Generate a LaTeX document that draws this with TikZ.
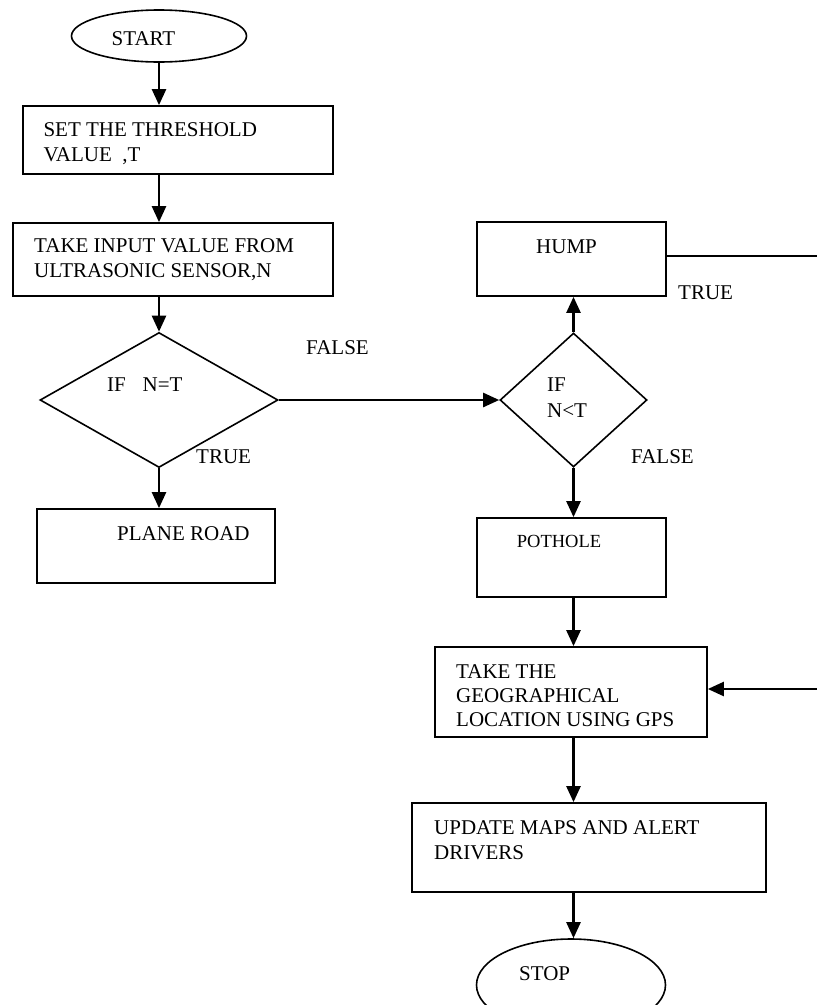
\documentclass[tikz,border=0pt]{standalone}
\usepackage{fontspec}
\setmainfont{Liberation Serif}
\usetikzlibrary{shapes.geometric,arrows.meta}
\tikzset{
  boxnode/.style={draw, line width=1.7pt, rectangle, inner sep=0pt},
  ovalnode/.style={draw, line width=1.6pt, ellipse, inner sep=0pt},
  decnode/.style={draw, line width=1.6pt, diamond, inner sep=0pt},
  txt/.style={anchor=base west, inner sep=0pt, font=\fontsize{21}{25}\selectfont},
  smalltxt/.style={anchor=base west, inner sep=0pt, font=\fontsize{18.5}{22}\selectfont},
  arr/.style={line width=2.4pt, -{Triangle[length=16pt,width=14pt]}},
  ln/.style={line width=2.2pt}
}
\begin{document}
\begin{tikzpicture}[x=1pt,y=-1pt]
\useasboundingbox (0,0) rectangle (817,1005);
% shapes
\node[ovalnode, minimum width=175pt, minimum height=52pt] (start) at (159,36) {};
\node[boxnode, minimum width=310pt, minimum height=68pt] (b1) at (178,140) {};
\node[boxnode, minimum width=320pt, minimum height=73pt] (b2) at (173,259.5) {};
\node[decnode, minimum width=238pt, minimum height=135pt, aspect=1.76] (d1) at (159,400) {};
\node[boxnode, minimum width=238pt, minimum height=74pt] (pr) at (156,546) {};
\node[decnode, minimum width=147pt, minimum height=134pt, aspect=1.1] (d2) at (573.5,400) {};
\node[boxnode, minimum width=189pt, minimum height=74pt] (hump) at (571.5,259) {};
\node[boxnode, minimum width=189pt, minimum height=79pt] (pot) at (571.5,557.5) {};
\node[boxnode, minimum width=272pt, minimum height=90pt] (gps) at (571,692) {};
\node[boxnode, minimum width=354pt, minimum height=89pt] (upd) at (589,847.5) {};
\node[ovalnode, minimum width=189pt, minimum height=92pt] (stop) at (571,985) {};
\coordinate (hr) at (817,256);
\coordinate (gr) at (817,689);
% texts
\node[txt] (tstart) at (111.5,45) {START};
\node[txt] (t1a) at (43.3,136.7) {SET THE THRESHOLD};
\node[txt] (t1b) at (43.3,161.3) {VALUE\ \ ,T};
\node[txt] (t2a) at (34,252.3) {TAKE INPUT VALUE FROM};
\node[txt] (t2b) at (34,277.3) {ULTRASONIC SENSOR,N};
\node[txt] (td1) at (107,391) {IF\hspace{11.5pt} N=T};
\node[txt] (ttrue1) at (196,463.3) {TRUE};
\node[txt] (tfalse1) at (306,354.3) {FALSE};
\node[txt] (tpr) at (117,540) {PLANE ROAD};
\node[txt] (thump) at (536,253.3) {HUMP};
\node[txt] (ttrue2) at (678,299.3) {TRUE};
\node[txt] (td2a) at (547,391.7) {IF};
\node[txt] (td2b) at (547,417.3) {N<T};
\node[txt] (tfalse2) at (631,463.3) {FALSE};
\node[smalltxt] (tpot) at (516.7,547.3) {POTHOLE};
\node[txt] (tg1) at (456,678.3) {TAKE THE};
\node[txt] (tg2) at (456,702.3) {GEOGRAPHICAL};
\node[txt] (tg3) at (456,726.7) {LOCATION USING GPS};
\node[txt] (tu1) at (434,834.3) {UPDATE MAPS AND ALERT};
\node[txt] (tu2) at (434,859) {DRIVERS};
\node[txt] (tstop) at (519,980) {STOP};
% connectors
\draw[arr] (start.south) -- (start.south |- b1.north);
\draw[arr] (start.south |- b1.south) -- (start.south |- b2.north);
\draw[arr] (d1.north |- b2.south) -- (d1.north);
\draw[arr] (d1.south) -- (d1.south |- pr.north);
\draw[arr] (d1.east) -- (d2.west);
\draw[arr] (d2.north) -- (d2.north |- hump.south);
\draw[ln] (hump.east |- hr) -- (hr);
\draw[arr] (d2.south) -- (d2.south |- pot.north);
\draw[arr] (d2.south |- pot.south) -- (d2.south |- gps.north);
\draw[arr] (gr) -- (gr -| gps.east);
\draw[arr] (d2.south |- gps.south) -- (d2.south |- upd.north);
\draw[arr] (d2.south |- upd.south) -- (d2.south |- stop.north);
\end{tikzpicture}
\end{document}
